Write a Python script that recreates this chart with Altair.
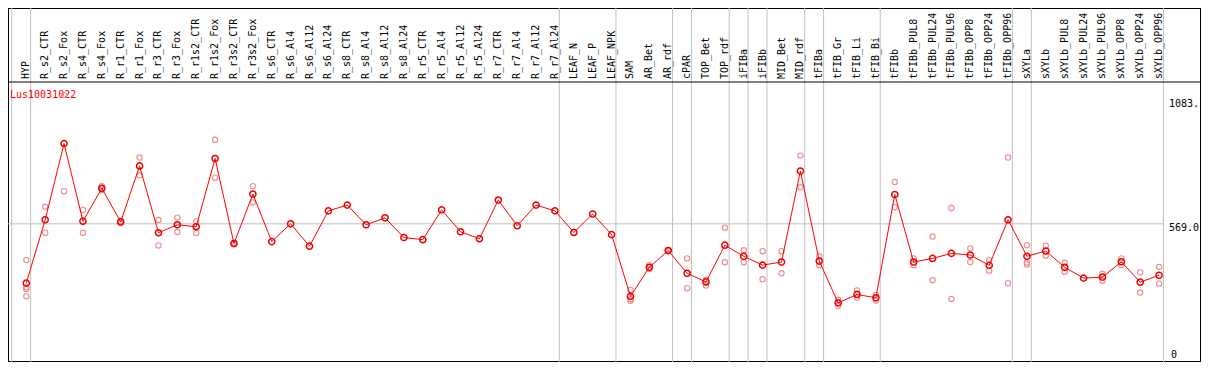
import altair as alt
import pandas as pd

samples = ["HYP", "R_s2_CTR", "R_s2_Fox", "R_s4_CTR", "R_s4_Fox", "R_r1_CTR", "R_r1_Fox",
           "R_r3_CTR", "R_r3_Fox", "R_r1s2_CTR", "R_r1s2_Fox", "R_r3s2_CTR", "R_r3s2_Fox",
           "R_s6_CTR", "R_s6_Al4", "R_s6_Al12", "R_s6_Al24", "R_s8_CTR", "R_s8_Al4",
           "R_s8_Al12", "R_s8_Al24", "R_r5_CTR", "R_r5_Al4", "R_r5_Al12", "R_r5_Al24",
           "R_r7_CTR", "R_r7_Al4", "R_r7_Al12", "R_r7_Al24", "LEAF_N", "LEAF_P", "LEAF_NPK",
           "SAM", "AR_Bet", "AR_rdf", "cPAR", "TOP_Bet", "TOP_rdf", "iFIBa", "iFIBb",
           "MID_Bet", "MID_rdf", "tFIBa", "tFIB_Gr", "tFIB_Li", "tFIB_Bi", "tFIBb",
           "tFIBb_PUL8", "tFIBb_PUL24", "tFIBb_PUL96", "tFIBb_OPP8", "tFIBb_OPP24",
           "tFIBb_OPP96", "sXYLa", "sXYLb", "sXYLb_PUL8", "sXYLb_PUL24", "sXYLb_PUL96",
           "sXYLb_OPP8", "sXYLb_OPP24", "sXYLb_OPP96"]

means = [322, 586, 903, 580, 717, 577, 810, 532, 565, 557, 841, 487, 693,
         495, 569, 476, 623, 647, 565, 594, 512, 503, 627, 536, 507,
         668, 561, 647, 623, 533, 610, 524,
         267, 388, 458, 363, 327, 480, 434, 397, 410, 789, 414, 240, 275, 261,
         691, 410, 425, 446, 439, 396, 586, 434, 456, 388, 343, 347, 411, 326, 355]

replicates = [[418, 305, 298, 267], [640, 532], [1105, 705], [627, 532], [726, 710],
              [582, 572], [845, 771], [585, 479], [595, 535], [579, 531], [919, 761],
              [490, 484], [726, 658],
              [], [], [], [], [], [], [], [], [], [], [], [], [], [], [], [], [], [], [],
              [294, 249, 255], [397, 381], [460, 455], [425, 301], [336, 312], [553, 409],
              [459, 409], [455, 338], [455, 363], [853, 721], [434, 397], [253, 228],
              [292, 262], [273, 250], [743, 638], [425, 397], [516, 334], [635, 256],
              [467, 410], [418, 374], [845, 322], [480, 408, 400], [478, 436], [407, 370],
              [], [361, 332], [425, 397], [367, 283], [390, 320]]

# group separators: index of last sample in each group (-1 = before first)
group_ends = [-1, 0, 28, 31, 34, 35, 37, 38, 39, 41, 42, 45, 52, 53, 60]

tick_values = [0.0, 569.0, 1083.0]
tick_labels = ["0", "569.0", "1083."]
gene = "Lus10031022"
grid_value = 569.0

# ---- layout ----
W, H = 1193, 354
X0, DX = 18.3, 18.88
SEP_OFF = 0.23
K = 0.2402
ZERO_PX = 1.5
HEADER_Y = 74
FONT = "DejaVu Sans Mono"
X_MIN = -X0 / DX

xs = alt.Scale(domain=[X_MIN, (W - X0) / DX], nice=False, zero=False)
ys = alt.Scale(domain=[-ZERO_PX / K, (H - ZERO_PX) / K], nice=False, zero=False)

mean_df = pd.DataFrame({"idx": list(range(len(samples))), "sample": samples, "value": means})
rep_rows = []
for i, reps in enumerate(replicates):
    for v in reps:
        rep_rows.append({"idx": i, "value": v})
rep_df = pd.DataFrame(rep_rows)
sep_df = pd.DataFrame({"b": group_ends})
tick_df = pd.DataFrame({"v": tick_values, "lab": tick_labels})
one = pd.DataFrame({"a": [0]})

X = lambda f: alt.X(f, type="quantitative", scale=xs, axis=None)
Y = lambda f: alt.Y(f, type="quantitative", scale=ys, axis=None)

seps = alt.Chart(sep_df).transform_calculate(xp=f"datum.b + {SEP_OFF}").mark_rule(
    color="#c0c0c0", strokeWidth=1).encode(x=X("xp"))

header_line = alt.Chart(one).mark_rule(color="black", strokeWidth=1).encode(
    y=alt.value(HEADER_Y))

hgrid = alt.Chart(one).mark_rule(color="#c0c0c0", strokeWidth=1).encode(
    x=alt.X(datum=X_MIN, type="quantitative", scale=xs, axis=None),
    x2=alt.X2(datum=group_ends[-1] + SEP_OFF),
    y=alt.Y(datum=grid_value, type="quantitative", scale=ys, axis=None))

cat_labels = alt.Chart(mean_df).mark_text(
    angle=270, align="left", baseline="middle", font=FONT, fontSize=10, color="black"
).encode(x=X("idx"), y=alt.value(HEADER_Y - 3), text="sample:N")

gene_label = alt.Chart(pd.DataFrame({"t": [gene]})).mark_text(
    align="left", baseline="middle", font=FONT, fontSize=10, color="#ff0000"
).encode(x=alt.value(2), y=alt.value(HEADER_Y + 13), text="t:N")

rep_pts = alt.Chart(rep_df).mark_point(
    shape="circle", filled=False, size=28, strokeWidth=1.1, color="#f08c8c", opacity=1
).encode(x=X("idx"), y=Y("value"))

line = alt.Chart(mean_df).mark_line(color="#ff0000", strokeWidth=1).encode(
    x=X("idx"), y=Y("value"))

main_pts = alt.Chart(mean_df).mark_point(
    shape="circle", filled=False, size=38, strokeWidth=1.5, color="#ee0000", opacity=1
).encode(x=X("idx"), y=Y("value"))

tick_top = alt.Chart(tick_df).transform_filter("datum.v > 0").mark_text(
    align="left", baseline="top", dy=-1, font=FONT, fontSize=10, color="black"
).encode(x=alt.value(1161), y=Y("v"), text="lab:N")

tick_zero = alt.Chart(tick_df).transform_filter("datum.v <= 0").mark_text(
    align="left", baseline="bottom", dy=-1, font=FONT, fontSize=10, color="black"
).encode(x=alt.value(1163), y=Y("v"), text="lab:N")

chart = alt.layer(
    seps, hgrid, header_line, cat_labels, gene_label, rep_pts, line, main_pts,
    tick_top, tick_zero
).properties(
    width=W, height=H, autosize=alt.AutoSizeParams(type="none"), padding=0,
    background="white"
).configure_view(stroke="black", strokeWidth=2)

chart.save("out.html", embed_options={"renderer": "svg", "actions": False})
